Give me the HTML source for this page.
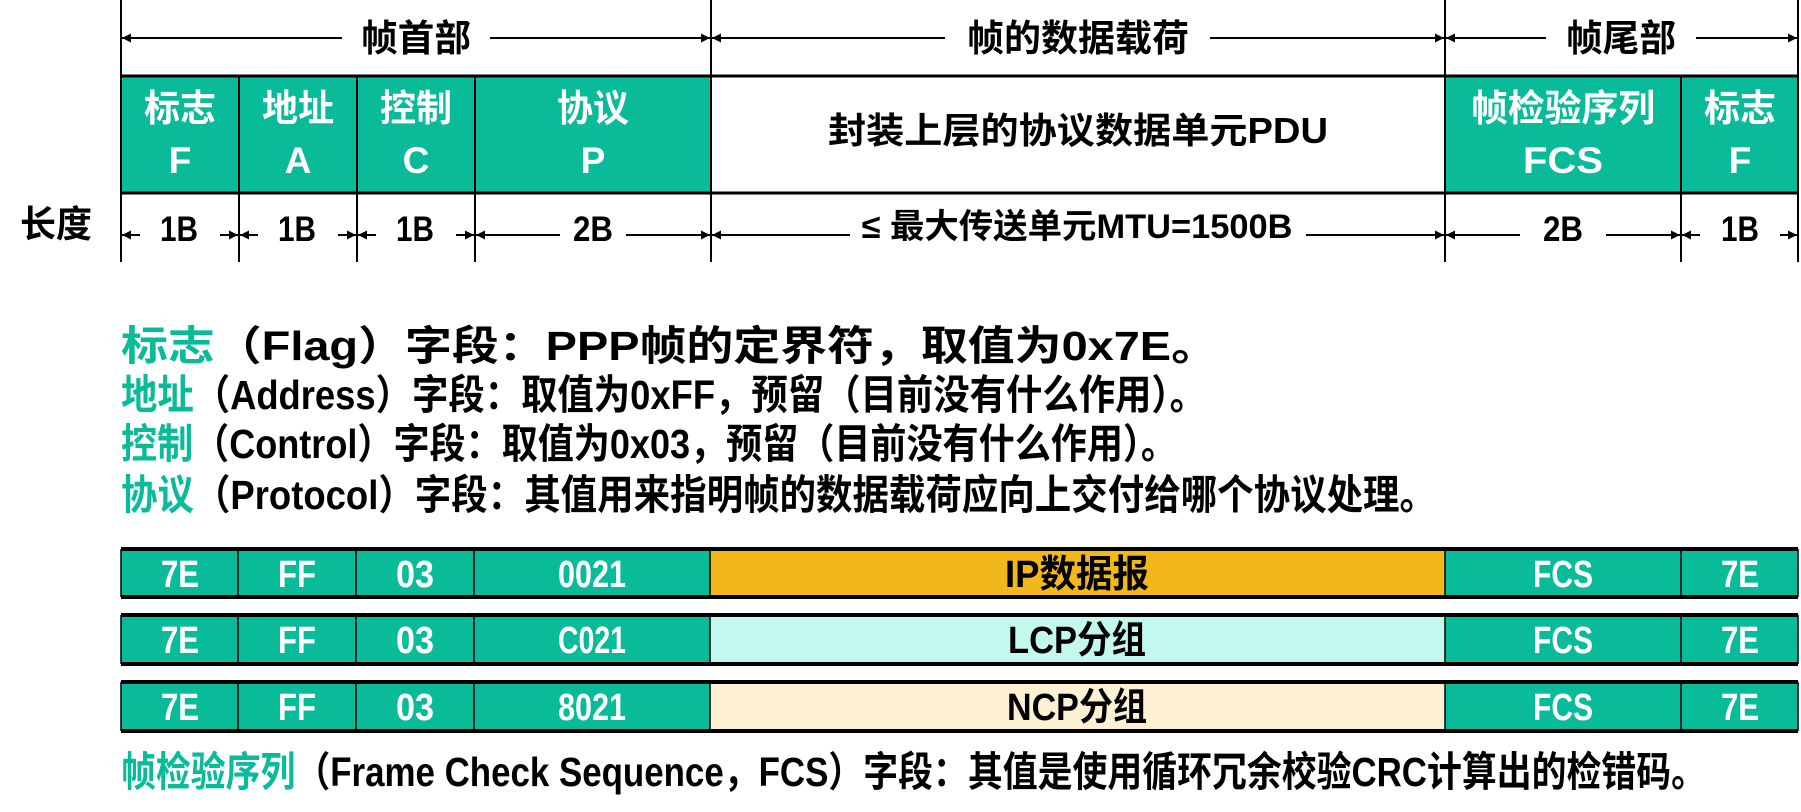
<!DOCTYPE html>
<html><head><meta charset="utf-8"><style>
body{margin:0;background:#fff;width:1801px;height:807px;overflow:hidden}
text{font-family:"Liberation Sans","Noto Sans CJK SC",sans-serif;font-weight:bold}
</style></head><body>
<svg width="1801" height="807" xmlns="http://www.w3.org/2000/svg">
<defs>
<marker id="a" viewBox="0 0 10 10" refX="10" refY="5" markerWidth="9" markerHeight="9" orient="auto-start-reverse" markerUnits="userSpaceOnUse"><path d="M0,0L10,5L0,10z" fill="#000"/></marker>
</defs>
<rect x="121" y="76" width="590" height="117" fill="#0abb9a"/>
<rect x="1445" y="76" width="353" height="117" fill="#0abb9a"/>
<line x1="121" y1="76" x2="1798" y2="76" stroke="#000" stroke-width="3"/>
<line x1="121" y1="193" x2="1798" y2="193" stroke="#000" stroke-width="3"/>
<g stroke="#000" stroke-width="2">
<line x1="121" y1="0" x2="121" y2="262"/><line x1="711" y1="0" x2="711" y2="262"/>
<line x1="1445" y1="0" x2="1445" y2="262"/><line x1="1798" y1="0" x2="1798" y2="262"/>
<line x1="239" y1="76" x2="239" y2="262"/><line x1="357" y1="76" x2="357" y2="262"/>
<line x1="475" y1="76" x2="475" y2="262"/><line x1="1681" y1="76" x2="1681" y2="262"/>
</g>
<g stroke="#000" stroke-width="2" marker-start="url(#a)" marker-end="url(#a)">
<line x1="122" y1="38" x2="710" y2="38"/><line x1="712" y1="38" x2="1444" y2="38"/><line x1="1446" y1="38" x2="1797" y2="38"/>
<line x1="122" y1="235" x2="238" y2="235"/><line x1="240" y1="235" x2="356" y2="235"/><line x1="358" y1="235" x2="474" y2="235"/>
<line x1="476" y1="235" x2="710" y2="235"/><line x1="712" y1="235" x2="1444" y2="235"/><line x1="1446" y1="235" x2="1680" y2="235"/><line x1="1682" y1="235" x2="1797" y2="235"/>
</g>
<g fill="#fff">
<rect x="342" y="15" width="148" height="46"/><rect x="945" y="15" width="265" height="46"/><rect x="1546" y="15" width="150" height="46"/>
<rect x="140" y="215" width="80" height="40"/><rect x="258" y="215" width="80" height="40"/><rect x="376" y="215" width="80" height="40"/>
<rect x="560" y="215" width="66" height="40"/><rect x="850" y="215" width="456" height="40"/><rect x="1520" y="215" width="86" height="40"/><rect x="1700" y="215" width="80" height="40"/>
</g>
<g font-size="37" text-anchor="middle" fill="#000">
<text x="416" y="51" textLength="110" lengthAdjust="spacingAndGlyphs">帧首部</text>
<text x="1078" y="51" textLength="222" lengthAdjust="spacingAndGlyphs">帧的数据载荷</text>
<text x="1621" y="51" textLength="110" lengthAdjust="spacingAndGlyphs">帧尾部</text>
<text x="56" y="237" font-size="37" textLength="72" lengthAdjust="spacingAndGlyphs">长度</text>
<text x="1078" y="143" font-size="36" textLength="500" lengthAdjust="spacingAndGlyphs">封装上层的协议数据单元PDU</text>
</g>
<g font-size="35" text-anchor="middle" fill="#000">
<text x="179" y="241" textLength="38" lengthAdjust="spacingAndGlyphs">1B</text>
<text x="297" y="241" textLength="38" lengthAdjust="spacingAndGlyphs">1B</text>
<text x="415" y="241" textLength="38" lengthAdjust="spacingAndGlyphs">1B</text>
<text x="593" y="241" textLength="40" lengthAdjust="spacingAndGlyphs">2B</text>
<text x="1077" y="238" font-size="34" textLength="431" lengthAdjust="spacingAndGlyphs">≤ 最大传送单元MTU=1500B</text>
<text x="1563" y="241" textLength="40" lengthAdjust="spacingAndGlyphs">2B</text>
<text x="1740" y="241" textLength="38" lengthAdjust="spacingAndGlyphs">1B</text>
</g>
<g font-size="37" text-anchor="middle" fill="#fff">
<text x="180" y="121" textLength="72" lengthAdjust="spacingAndGlyphs">标志</text>
<text x="298" y="121" textLength="72" lengthAdjust="spacingAndGlyphs">地址</text>
<text x="416" y="121" textLength="72" lengthAdjust="spacingAndGlyphs">控制</text>
<text x="593" y="121" textLength="72" lengthAdjust="spacingAndGlyphs">协议</text>
<text x="1563" y="121" textLength="184" lengthAdjust="spacingAndGlyphs">帧检验序列</text>
<text x="1740" y="121" textLength="72" lengthAdjust="spacingAndGlyphs">标志</text>
<text x="180" y="173">F</text><text x="298" y="173">A</text><text x="416" y="173">C</text><text x="593" y="173">P</text>
<text x="1563" y="173" textLength="80" lengthAdjust="spacingAndGlyphs">FCS</text><text x="1740" y="173">F</text>
</g>
<g font-size="41" fill="#000">
<text x="121" y="360" textLength="1097" lengthAdjust="spacingAndGlyphs"><tspan fill="#0abb9a">标志</tspan>（Flag）字段：PPP帧的定界符，取值为0x7E。</text>
<text x="121" y="409" textLength="1085" lengthAdjust="spacingAndGlyphs"><tspan fill="#0abb9a">地址</tspan>（Address）字段：取值为0xFF，预留（目前没有什么作用）。</text>
<text x="121" y="458" textLength="1056" lengthAdjust="spacingAndGlyphs"><tspan fill="#0abb9a">控制</tspan>（Control）字段：取值为0x03，预留（目前没有什么作用）。</text>
<text x="121" y="509" textLength="1315" lengthAdjust="spacingAndGlyphs"><tspan fill="#0abb9a">协议</tspan>（Protocol）字段：其值用来指明帧的数据载荷应向上交付给哪个协议处理。</text>
<text x="121" y="786" textLength="1585" lengthAdjust="spacingAndGlyphs"><tspan fill="#0abb9a">帧检验序列</tspan>（Frame Check Sequence，FCS）字段：其值是使用循环冗余校验CRC计算出的检错码。</text>
</g>
<rect x="121" y="549" width="1677" height="48" fill="#0abb9a"/><rect x="710" y="549" width="735" height="48" fill="#f2b71a"/>
<rect x="121" y="615" width="1677" height="49" fill="#0abb9a"/><rect x="710" y="615" width="735" height="49" fill="#c3f8ee"/>
<rect x="121" y="682" width="1677" height="49" fill="#0abb9a"/><rect x="710" y="682" width="735" height="49" fill="#fdf0d3"/>
<g stroke="#000" stroke-width="4">
<line x1="121" y1="549" x2="1798" y2="549"/><line x1="121" y1="597" x2="1798" y2="597"/>
<line x1="121" y1="615" x2="1798" y2="615"/><line x1="121" y1="664" x2="1798" y2="664"/>
<line x1="121" y1="682" x2="1798" y2="682"/><line x1="121" y1="731" x2="1798" y2="731"/>
</g>
<g stroke="#000" stroke-width="1.5">
<path d="M121,549V597M238,549V597M356,549V597M474,549V597M710,549V597M1445,549V597M1681,549V597M1798,549V597"/>
<path d="M121,615V664M238,615V664M356,615V664M474,615V664M710,615V664M1445,615V664M1681,615V664M1798,615V664"/>
<path d="M121,682V731M238,682V731M356,682V731M474,682V731M710,682V731M1445,682V731M1681,682V731M1798,682V731"/>
</g>
<g font-size="38" text-anchor="middle" fill="#fff">
<text x="180" y="587" textLength="38" lengthAdjust="spacingAndGlyphs">7E</text><text x="297" y="587" textLength="38" lengthAdjust="spacingAndGlyphs">FF</text><text x="415" y="587" textLength="38" lengthAdjust="spacingAndGlyphs">03</text><text x="592" y="587" textLength="68" lengthAdjust="spacingAndGlyphs">0021</text><text x="1563" y="587" textLength="60" lengthAdjust="spacingAndGlyphs">FCS</text><text x="1740" y="587" textLength="38" lengthAdjust="spacingAndGlyphs">7E</text>
<text x="180" y="653" textLength="38" lengthAdjust="spacingAndGlyphs">7E</text><text x="297" y="653" textLength="38" lengthAdjust="spacingAndGlyphs">FF</text><text x="415" y="653" textLength="38" lengthAdjust="spacingAndGlyphs">03</text><text x="592" y="653" textLength="68" lengthAdjust="spacingAndGlyphs">C021</text><text x="1563" y="653" textLength="60" lengthAdjust="spacingAndGlyphs">FCS</text><text x="1740" y="653" textLength="38" lengthAdjust="spacingAndGlyphs">7E</text>
<text x="180" y="720" textLength="38" lengthAdjust="spacingAndGlyphs">7E</text><text x="297" y="720" textLength="38" lengthAdjust="spacingAndGlyphs">FF</text><text x="415" y="720" textLength="38" lengthAdjust="spacingAndGlyphs">03</text><text x="592" y="720" textLength="68" lengthAdjust="spacingAndGlyphs">8021</text><text x="1563" y="720" textLength="60" lengthAdjust="spacingAndGlyphs">FCS</text><text x="1740" y="720" textLength="38" lengthAdjust="spacingAndGlyphs">7E</text>
</g>
<g font-size="38" text-anchor="middle" fill="#000">
<text x="1077" y="587" textLength="144" lengthAdjust="spacingAndGlyphs">IP数据报</text>
<text x="1077" y="653" textLength="138" lengthAdjust="spacingAndGlyphs">LCP分组</text>
<text x="1077" y="720" textLength="140" lengthAdjust="spacingAndGlyphs">NCP分组</text>
</g>
</svg>
</body></html>
